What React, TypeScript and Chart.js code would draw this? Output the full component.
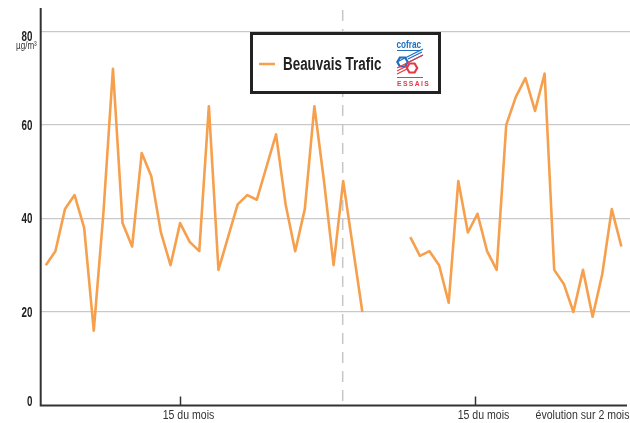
import { useEffect, useRef } from "react";
import { Chart, registerables } from "chart.js";

Chart.register(...registerables);

const seriesName = "Beauvais Trafic";
const unitLabel = "µg/m³";
const axisCaption = "évolution sur 2 mois";
const yTickValues = [0, 20, 40, 60, 80];
const xTickLabels = ["15 du mois", "15 du mois"];
const xTickIndices = [14, 44.7];
const monthBoundaryIndex = 30.95;

// daily values, month 1 (31 days)
const month1Values: (number | null)[] = [
  30, 33, 42, 45, 38, 16, 41, 72, 39, 34, 54, 49, 37, 30, 39, 35, 33, 64, 29, 36,
  43, 45, 44, 51, 58, 43, 33, 42, 64, 48, 30,
];
// daily values, month 2 (30 days)
const month2Values: (number | null)[] = [
  48, 34, 20, null, null, null, null, 36, 32, 33, 30, 22, 48, 37, 41, 33, 29, 60, 66, 70,
  63, 71, 29, 26, 20, 29, 19, 28, 42, 34,
];

const FONT = "'Liberation Sans', Arial, sans-serif";
const ORANGE = "#F6A04D";

function condText(
  ctx: CanvasRenderingContext2D,
  text: string,
  x: number,
  y: number,
  font: string,
  color: string,
  sx: number,
  align: CanvasTextAlign,
  spacing = 0
) {
  ctx.save();
  ctx.font = font;
  ctx.fillStyle = color;
  ctx.textAlign = align;
  ctx.textBaseline = "alphabetic";
  (ctx as any).letterSpacing = spacing + "px";
  ctx.translate(x, y);
  ctx.scale(sx, 1);
  ctx.fillText(text, 0, 0);
  ctx.restore();
}

function hexagon(ctx: CanvasRenderingContext2D, cx: number, cy: number, r: number) {
  ctx.beginPath();
  for (let k = 0; k < 6; k++) {
    const a = (Math.PI / 3) * k;
    const px = cx + r * Math.cos(a);
    const py = cy + r * Math.sin(a);
    if (k === 0) ctx.moveTo(px, py);
    else ctx.lineTo(px, py);
  }
  ctx.closePath();
  ctx.stroke();
}

const decorPlugin = {
  id: "decor",
  beforeDatasetsDraw(chart: any) {
    const { ctx, chartArea, scales } = chart;
    const xs = scales.x;
    const px = xs.getPixelForValue(monthBoundaryIndex);
    ctx.save();
    ctx.strokeStyle = "#c6c6c6";
    ctx.lineWidth = 1.5;
    ctx.setLineDash([11, 8]);
    ctx.beginPath();
    ctx.moveTo(px, chartArea.top + 2);
    ctx.lineTo(px, chartArea.bottom - 4);
    ctx.stroke();
    ctx.restore();
  },
  afterDraw(chart: any) {
    const { ctx, chartArea, scales } = chart;
    const xs = scales.x;
    const ys = scales.y;
    const bottom = chartArea.bottom;
    ctx.save();
    // axes
    ctx.strokeStyle = "#333";
    ctx.lineWidth = 2;
    ctx.beginPath();
    ctx.moveTo(chartArea.left - 0.3, chartArea.top);
    ctx.lineTo(chartArea.left - 0.3, bottom + 0.5);
    ctx.moveTo(chartArea.left - 1.3, bottom);
    ctx.lineTo(chartArea.right - 3, bottom);
    ctx.stroke();

    // x ticks and labels
    ctx.lineWidth = 1.5;
    xTickIndices.forEach((idx, i) => {
      const px = Math.round(xs.getPixelForValue(idx)) + 0.5;
      ctx.beginPath();
      ctx.moveTo(px, bottom - 9);
      ctx.lineTo(px, bottom);
      ctx.stroke();
      condText(ctx, xTickLabels[i], px + 8, bottom + 13, `12px ${FONT}`, "#333", 0.88, "center");
    });
    condText(ctx, axisCaption, chartArea.right - 0.5, bottom + 13, `12px ${FONT}`, "#333", 0.88, "right");

    // y labels
    yTickValues.forEach((v, i) => {
      const py = ys.getPixelForValue(v);
      let base = py + 5;
      if (i === yTickValues.length - 1) base = py + 9.5;
      if (v === 0) base = py + 0.5;
      condText(ctx, String(v), 32.4, base, `bold 14px ${FONT}`, "#222", 0.7, "right");
    });
    const topPy = ys.getPixelForValue(yTickValues[yTickValues.length - 1]);
    condText(ctx, unitLabel, 26.4, topPy + 18, `11px ${FONT}`, "#333", 0.73, "center");

    // legend box
    ctx.fillStyle = "#fff";
    ctx.fillRect(251.5, 33.5, 188, 59);
    ctx.strokeStyle = "#222";
    ctx.lineWidth = 3;
    ctx.strokeRect(251.5, 33.5, 188, 59);
    ctx.strokeStyle = ORANGE;
    ctx.lineWidth = 2.5;
    ctx.beginPath();
    ctx.moveTo(259, 64);
    ctx.lineTo(275, 64);
    ctx.stroke();
    condText(ctx, seriesName, 283, 70, `bold 18px ${FONT}`, "#222", 0.745, "left");

    // cofrac logo
    const blue = "#1f6fc0";
    const red = "#e53948";
    condText(ctx, "cofrac", 396.5, 47.5, `bold 10px ${FONT}`, blue, 0.82, "left");
    ctx.strokeStyle = blue;
    ctx.lineWidth = 1.2;
    ctx.beginPath();
    ctx.moveTo(397, 50.5);
    ctx.lineTo(421, 50.5);
    ctx.moveTo(408, 59);
    ctx.lineTo(422, 52);
    ctx.moveTo(409, 62);
    ctx.lineTo(423, 55);
    ctx.moveTo(397, 62);
    ctx.lineTo(423, 49);
    ctx.stroke();
    ctx.lineWidth = 2.2;
    hexagon(ctx, 402.5, 62, 5.2);
    ctx.strokeStyle = red;
    ctx.lineWidth = 1.2;
    ctx.beginPath();
    ctx.moveTo(397, 71);
    ctx.lineTo(408, 65.5);
    ctx.moveTo(397, 74);
    ctx.lineTo(407, 69);
    ctx.moveTo(397, 68);
    ctx.lineTo(423, 55);
    ctx.moveTo(397, 77.5);
    ctx.lineTo(423, 77.5);
    ctx.stroke();
    ctx.lineWidth = 2.2;
    hexagon(ctx, 412, 68, 5.2);
    condText(ctx, "ESSAIS", 397, 86, `bold 8px ${FONT}`, red, 0.85, "left", 1.6);
    ctx.restore();
  },
};

export default function App() {
  const ref = useRef<HTMLCanvasElement>(null);
  useEffect(() => {
    document.body.style.margin = "0";
    const allValues = [...month1Values, ...month2Values];
    const points = allValues.map((v, i) => ({ x: i, y: v }));
    const chart = new Chart(ref.current!, {
      type: "line",
      data: {
        datasets: [
          {
            label: seriesName,
            data: points as any,
            borderColor: ORANGE,
            borderWidth: 2.6,
            borderJoinStyle: "round",
            pointRadius: 0,
            spanGaps: false,
            tension: 0,
            fill: false,
          },
        ],
      },
      options: {
        animation: false,
        responsive: false,
        devicePixelRatio: 1,
        layout: { padding: { top: 8, left: 0, right: 0, bottom: 0 } },
        plugins: { legend: { display: false }, tooltip: { enabled: false } },
        scales: {
          x: {
            type: "linear",
            min: -0.5,
            max: 60.9,
            afterFit: (s: any) => {
              s.height = 17.5;
            },
            ticks: { display: false },
            grid: { display: false },
            border: { display: false },
          },
          y: {
            min: 0,
            max: 85,
            afterFit: (s: any) => {
              s.width = 41;
            },
            ticks: { display: false, stepSize: 20, includeBounds: false } as any,
            grid: {
              color: (c: any) => (c.tick && c.tick.value === 0 ? "rgba(0,0,0,0)" : "#c9c9c9"),
              lineWidth: 1.3,
              drawTicks: false,
            },
            border: { display: false },
          },
        },
      },
      plugins: [decorPlugin],
    });
    return () => chart.destroy();
  }, []);
  return <canvas ref={ref} width={630} height={423} style={{ display: "block" }} />;
}
